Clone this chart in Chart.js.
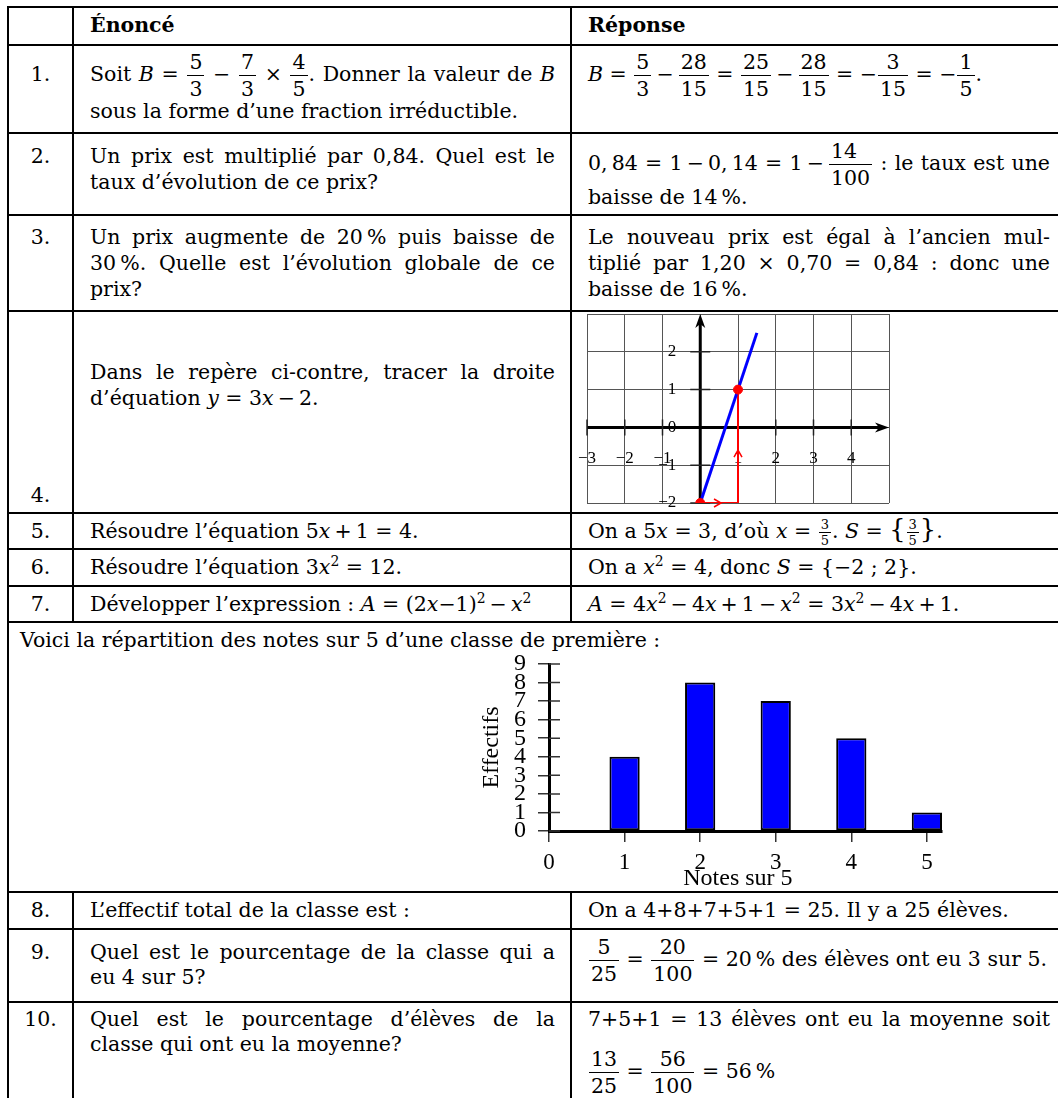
<!DOCTYPE html>
<html lang="fr">
<head>
<meta charset="utf-8">
<title>Automatismes – corrigé</title>
<script src="https://cdn.jsdelivr.net/npm/chart.js@4.4.1/dist/chart.umd.min.js"></script>
<style>
  body { margin: 0; background: #fff; }
  #page { position: relative; width: 1058px; height: 1098px; overflow: hidden;
          font-family: 'DejaVu Serif', serif; font-size: 20.5px; color: #000; }
  .h { position: absolute; left: 7px; width: 1060px; height: 2px; background: #000; }
  .v { position: absolute; width: 2px; background: #000; }
  .t { position: absolute; height: 24px; line-height: 24px; margin-top: -12px; white-space: nowrap; }
  .j { white-space: normal; text-align: justify; text-align-last: justify; }
  .c2 { left: 90px; width: 465px; }
  .c3 { left: 588px; width: 462px; }
  .num { left: 8px; width: 65px; text-align: center; }
  .fr { display: inline-block; vertical-align: middle; margin: -40px 1px; text-align: center; line-height: 20px; }
  .fr span { display: block; padding: 0 2px; }
  .fr .n { border-bottom: 1.4px solid #000; padding-bottom: 3px; }
  .fr .d { padding-top: 3px; }
  .fr.s { font-size: 13px; line-height: 13px; }
  .fr.s .n { padding-bottom: 1px; }
  .fr.s .d { padding-top: 1px; }
  .acc { font-size: 1.25em; line-height: 0; }
  sup { font-size: 0.68em; line-height: 0; vertical-align: 0.55em; }
  canvas { position: absolute; }
</style>
</head>
<body>
<div id="page">
  <!-- filets du tableau -->
  <div class="h" style="top:6px"></div>
  <div class="h" style="top:44px"></div>
  <div class="h" style="top:132px"></div>
  <div class="h" style="top:214px"></div>
  <div class="h" style="top:310px"></div>
  <div class="h" style="top:512px"></div>
  <div class="h" style="top:548px"></div>
  <div class="h" style="top:585px"></div>
  <div class="h" style="top:621px"></div>
  <div class="h" style="top:891px"></div>
  <div class="h" style="top:928px"></div>
  <div class="h" style="top:1001px"></div>
  <div class="v" style="left:7px;top:6px;height:1092px"></div>
  <div class="v" style="left:72px;top:6px;height:616px"></div>
  <div class="v" style="left:570px;top:6px;height:616px"></div>
  <div class="v" style="left:72px;top:891px;height:207px"></div>
  <div class="v" style="left:570px;top:891px;height:207px"></div>

  <!-- en-tête -->
  <div class="t c2" style="top:25px"><b>Énoncé</b></div>
  <div class="t c3" style="top:25px"><b>Réponse</b></div>

  <!-- 1 -->
  <div class="t num" style="top:74px">1.</div>
  <div class="t c2 j" style="top:74px">Soit <i>B</i> = <span class="fr"><span class="n">5</span><span class="d">3</span></span> − <span class="fr"><span class="n">7</span><span class="d">3</span></span> × <span class="fr"><span class="n">4</span><span class="d">5</span></span>. Donner la valeur de <i>B</i></div>
  <div class="t c2" style="top:111px">sous la forme d’une fraction irréductible.</div>
  <div class="t c3" style="top:74px"><i>B</i> = <span class="fr"><span class="n">5</span><span class="d">3</span></span>&thinsp;−&thinsp;<span class="fr"><span class="n">28</span><span class="d">15</span></span> = <span class="fr"><span class="n">25</span><span class="d">15</span></span>&thinsp;−&thinsp;<span class="fr"><span class="n">28</span><span class="d">15</span></span> = −<span class="fr"><span class="n">3</span><span class="d">15</span></span> = −<span class="fr"><span class="n">1</span><span class="d">5</span></span>.</div>

  <!-- 2 -->
  <div class="t num" style="top:156px">2.</div>
  <div class="t c2 j" style="top:156px">Un prix est multiplié par 0,84. Quel est le</div>
  <div class="t c2" style="top:182px">taux d’évolution de ce prix?</div>
  <div class="t c3 j" style="top:163px">0,&thinsp;84 = 1&thinsp;−&thinsp;0,&thinsp;14 = 1&thinsp;−&thinsp;<span class="fr"><span class="n">14</span><span class="d">100</span></span> : le taux est une</div>
  <div class="t c3" style="top:197px">baisse de 14&#8239;%.</div>

  <!-- 3 -->
  <div class="t num" style="top:237px">3.</div>
  <div class="t c2 j" style="top:237px">Un prix augmente de 20&#8239;% puis baisse de</div>
  <div class="t c2 j" style="top:263px">30&#8239;%. Quelle est l’évolution globale de ce</div>
  <div class="t c2" style="top:289px">prix?</div>
  <div class="t c3 j" style="top:237px">Le nouveau prix est égal à l’ancien mul-</div>
  <div class="t c3 j" style="top:263px">tiplié par 1,20 × 0,70 = 0,84 : donc une</div>
  <div class="t c3" style="top:289px">baisse de 16&#8239;%.</div>

  <!-- 4 -->
  <div class="t c2 j" style="top:372px">Dans le repère ci-contre, tracer la droite</div>
  <div class="t c2" style="top:398px">d’équation <i>y</i> = 3<i>x</i>&thinsp;−&thinsp;2.</div>
  <div class="t num" style="top:495px">4.</div>
  <canvas id="repere" width="326" height="207" style="left:572px;top:306px"></canvas>

  <!-- 5 à 7 -->
  <div class="t num" style="top:531px">5.</div>
  <div class="t c2" style="top:531px">Résoudre l’équation 5<i>x</i>&thinsp;+&thinsp;1 = 4.</div>
  <div class="t c3" style="top:531px">On a 5<i>x</i> = 3, d’où <i>x</i> = <span class="fr s"><span class="n">3</span><span class="d">5</span></span>. <i>S</i> = <span class="acc">{</span><span class="fr s"><span class="n">3</span><span class="d">5</span></span><span class="acc">}</span>.</div>
  <div class="t num" style="top:567px">6.</div>
  <div class="t c2" style="top:567px">Résoudre l’équation 3<i>x</i><sup>2</sup> = 12.</div>
  <div class="t c3" style="top:567px">On a <i>x</i><sup>2</sup> = 4, donc <i>S</i> = {−2 ; 2}.</div>
  <div class="t num" style="top:604px">7.</div>
  <div class="t c2" style="top:604px">Développer l’expression : <i>A</i> = (2<i>x</i>−1)<sup>2</sup>&thinsp;−&thinsp;<i>x</i><sup>2</sup></div>
  <div class="t c3" style="top:604px"><i>A</i> = 4<i>x</i><sup>2</sup>&thinsp;−&thinsp;4<i>x</i>&thinsp;+&thinsp;1&thinsp;−&thinsp;<i>x</i><sup>2</sup> = 3<i>x</i><sup>2</sup>&thinsp;−&thinsp;4<i>x</i>&thinsp;+&thinsp;1.</div>

  <!-- diagramme -->
  <div class="t" style="left:20px;top:640px">Voici la répartition des notes sur 5 d’une classe de première :</div>
  <canvas id="diagramme" width="490" height="250" style="left:470px;top:640px"></canvas>

  <!-- 8 à 10 -->
  <div class="t num" style="top:910px">8.</div>
  <div class="t c2" style="top:910px">L’effectif total de la classe est :</div>
  <div class="t c3" style="top:910px">On a 4+8+7+5+1 = 25. Il y a 25 élèves.</div>
  <div class="t num" style="top:952px">9.</div>
  <div class="t c2 j" style="top:952px">Quel est le pourcentage de la classe qui a</div>
  <div class="t c2" style="top:977px">eu 4 sur 5?</div>
  <div class="t c3" style="top:959px"><span class="fr"><span class="n">5</span><span class="d">25</span></span> = <span class="fr"><span class="n">20</span><span class="d">100</span></span> = 20&#8239;% des élèves ont eu 3 sur 5.</div>
  <div class="t num" style="top:1019px">10.</div>
  <div class="t c2 j" style="top:1019px">Quel est le pourcentage d’élèves de la</div>
  <div class="t c2" style="top:1044px">classe qui ont eu la moyenne?</div>
  <div class="t c3 j" style="top:1019px">7+5+1 = 13 élèves ont eu la moyenne soit</div>
  <div class="t c3" style="top:1071px"><span class="fr"><span class="n">13</span><span class="d">25</span></span> = <span class="fr"><span class="n">56</span><span class="d">100</span></span> = 56&#8239;%</div>
</div>

<script>
// Question 4 : repère et droite y = 3x - 2
const bornesX = [-3, 5];
const bornesY = [-2, 3];
const droiteX = [0, 1.5];
const droiteY = [-2, 2.5];
const pointsX = [0, 1];
const pointsY = [-2, 1];
const cheminX = [0, 1, 1];
const cheminY = [-2, -2, 1];
const flecheX = [0.55, 1];
const flecheY = [-2, -0.6];
const valeursAxeX = [-3, -2, -1, 1, 2, 3, 4];
const labelsAxeX = ['−3', '−2', '−1', '1', '2', '3', '4'];
const valeursAxeY = [-2, -1, 0, 1, 2];
const labelsAxeY = ['−2', '−1', '0', '1', '2'];

// Diagramme en bâtons des notes
const notes = [1, 2, 3, 4, 5];
const effectifs = [4, 8, 7, 5, 1];
const ticksNotes = ['0', '1', '2', '3', '4', '5'];
const ticksEffectifs = ['0', '1', '2', '3', '4', '5', '6', '7', '8', '9'];
const titreX = 'Notes sur 5';
const titreY = 'Effectifs';

function pointe(ctx, px, py, dx, dy) {
    // pointe pleine, style pstricks
    const nx = -dy, ny = dx;
    ctx.beginPath();
    ctx.moveTo(px, py);
    ctx.lineTo(px - dx * 14 + nx * 5, py - dy * 14 + ny * 5);
    ctx.lineTo(px - dx * 10, py - dy * 10);
    ctx.lineTo(px - dx * 14 - nx * 5, py - dy * 14 - ny * 5);
    ctx.closePath();
    ctx.fill();
}

function chevron(ctx, px, py, dx, dy) {
    const nx = -dy, ny = dx;
    ctx.beginPath();
    ctx.moveTo(px - dx * 7 + nx * 4, py - dy * 7 + ny * 4);
    ctx.lineTo(px, py);
    ctx.lineTo(px - dx * 7 - nx * 4, py - dy * 7 - ny * 4);
    ctx.stroke();
}

const pluginRepere = {
    id: 'pluginRepere',
    beforeDatasetsDraw(chart) {
        const { ctx, scales: { x, y } } = chart;
        const x0 = x.getPixelForValue(0);
        const y0 = y.getPixelForValue(0);
        const xMin = x.getPixelForValue(bornesX[0]);
        const xMax = x.getPixelForValue(bornesX[1]);
        const yMin = y.getPixelForValue(bornesY[0]);
        const yMax = y.getPixelForValue(bornesY[1]);
        ctx.save();
        ctx.strokeStyle = '#000';
        ctx.fillStyle = '#000';
        ctx.lineWidth = 3;
        ctx.beginPath();
        ctx.moveTo(xMin, y0); ctx.lineTo(xMax - 10, y0);
        ctx.moveTo(x0, yMin); ctx.lineTo(x0, yMax + 10);
        ctx.stroke();
        pointe(ctx, xMax, y0, 1, 0);
        pointe(ctx, x0, yMax, 0, -1);

        // graduations
        ctx.lineWidth = 1.5;
        ctx.strokeStyle = '#222';
        ctx.beginPath();
        valeursAxeX.forEach(v => {
            const px = x.getPixelForValue(v);
            ctx.moveTo(px, y0 - 8); ctx.lineTo(px, y0 + 8);
        });
        valeursAxeY.forEach(v => {
            if (v === 0) return;
            const py = y.getPixelForValue(v);
            ctx.moveTo(x0 - 10, py); ctx.lineTo(x0 + 10, py);
        });
        ctx.stroke();

        ctx.font = '17px "Liberation Serif"';
        ctx.textAlign = 'center';
        ctx.textBaseline = 'middle';
        valeursAxeX.forEach((v, i) => {
            ctx.fillText(labelsAxeX[i], x.getPixelForValue(v), y0 + 31);
        });
        ctx.textAlign = 'right';
        valeursAxeY.forEach((v, i) => {
            ctx.fillText(labelsAxeY[i], x0 - 24, y.getPixelForValue(v));
        });
        ctx.restore();
    },
    afterDatasetsDraw(chart) {
        const { ctx, scales: { x, y } } = chart;
        ctx.save();
        ctx.strokeStyle = '#ff0000';
        ctx.lineWidth = 1.5;
        flecheX.forEach((v, i) => {
            // direction du segment i du chemin rouge
            const dx = Math.sign(cheminX[i + 1] - cheminX[i]);
            const dy = -Math.sign(cheminY[i + 1] - cheminY[i]);
            chevron(ctx, x.getPixelForValue(v), y.getPixelForValue(flecheY[i]), dx, dy);
        });
        ctx.restore();
    }
};

new Chart(document.getElementById('repere'), {
    type: 'scatter',
    data: {
        datasets: [
            {
                data: pointsX.map((v, i) => ({ x: v, y: pointsY[i] })),
                pointRadius: 4.5,
                pointBackgroundColor: '#ff0000',
                pointBorderColor: '#ff0000',
                showLine: false
            },
            {
                data: droiteX.map((v, i) => ({ x: v, y: droiteY[i] })),
                showLine: true,
                borderColor: '#0000ff',
                borderWidth: 3,
                pointRadius: 0
            },
            {
                data: cheminX.map((v, i) => ({ x: v, y: cheminY[i] })),
                showLine: true,
                borderColor: '#ff0000',
                borderWidth: 2,
                pointRadius: 0
            }
        ]
    },
    options: {
        responsive: false,
        animation: false,
        layout: { padding: { left: 15, right: 9, top: 8, bottom: 10 } },
        plugins: { legend: { display: false }, tooltip: { enabled: false } },
        scales: {
            x: {
                type: 'linear', min: bornesX[0], max: bornesX[1],
                ticks: { display: false, stepSize: 1 },
                grid: { color: '#555', lineWidth: 1, drawTicks: false },
                border: { display: false },
                afterFit: s => { s.height = 0; }
            },
            y: {
                type: 'linear', min: bornesY[0], max: bornesY[1],
                ticks: { display: false, stepSize: 1 },
                grid: { color: '#555', lineWidth: 1, drawTicks: false },
                border: { display: false },
                afterFit: s => { s.width = 0; }
            }
        }
    },
    plugins: [pluginRepere]
});

const pluginNotes = {
    id: 'pluginNotes',
    afterDraw(chart) {
        const { ctx, scales: { x, y } } = chart;
        const gauche = x.getPixelForValue(0);
        const bas = y.getPixelForValue(0);
        ctx.save();
        // moitié intérieure des graduations verticales
        ctx.strokeStyle = '#333';
        ctx.lineWidth = 1.5;
        ctx.beginPath();
        ticksEffectifs.forEach((t, i) => {
            const py = y.getPixelForValue(i);
            ctx.moveTo(gauche, py); ctx.lineTo(gauche + 11, py);
        });
        ctx.stroke();
        ctx.fillStyle = '#000';
        ctx.font = '24px "Liberation Serif"';
        ctx.textAlign = 'center';
        ctx.textBaseline = 'middle';
        ctx.fillText(titreX, x.getPixelForValue(2.5), bas + 48);
        ctx.translate(gauche - 57, y.getPixelForValue(4.5));
        ctx.rotate(-Math.PI / 2);
        ctx.fillText(titreY, 0, 0);
        ctx.restore();
    }
};

new Chart(document.getElementById('diagramme'), {
    type: 'bar',
    data: {
        datasets: [{
            data: notes.map((n, i) => ({ x: n, y: effectifs[i] })),
            backgroundColor: '#0000ff',
            borderColor: '#000',
            borderWidth: 2,
            borderSkipped: false,
            barPercentage: 0.4,
            categoryPercentage: 1
        }]
    },
    options: {
        responsive: false,
        animation: false,
        layout: { padding: { top: 21, right: 18, left: 0, bottom: 0 } },
        plugins: { legend: { display: false }, tooltip: { enabled: false } },
        scales: {
            x: {
                type: 'linear', min: 0, max: 5.2, offset: false,
                ticks: {
                    stepSize: 1, includeBounds: false, autoSkip: false, maxRotation: 0,
                    color: '#000', font: { family: 'Liberation Serif', size: 23 }, padding: 7,
                    callback: v => ticksNotes[v]
                },
                grid: { drawOnChartArea: false, tickLength: 11, color: '#333', lineWidth: 1.5, offset: false },
                border: { color: '#000', width: 3 },
                afterFit: s => { s.height = 59; }
            },
            y: {
                min: 0, max: 9,
                ticks: {
                    stepSize: 1, autoSkip: false,
                    color: '#000', font: { family: 'Liberation Serif', size: 24, lineHeight: 1 }, padding: 12,
                    callback: v => ticksEffectifs[v]
                },
                grid: { drawOnChartArea: false, tickLength: 11, color: '#333', lineWidth: 1.5 },
                border: { color: '#000', width: 3 },
                afterFit: s => { s.width = 79; }
            }
        }
    },
    plugins: [pluginNotes]
});
</script>
</body>
</html>
